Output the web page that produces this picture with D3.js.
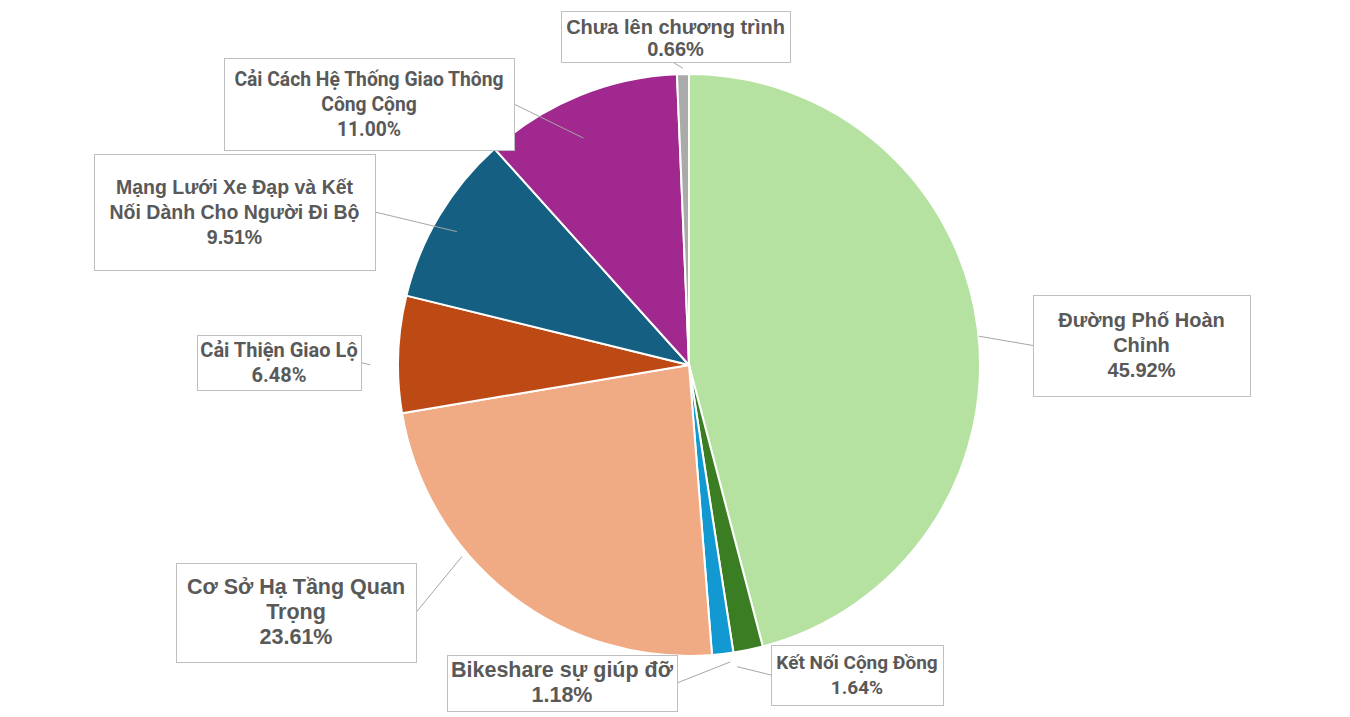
<!DOCTYPE html>
<html>
<head>
<meta charset="utf-8">
<script src="https://cdn.jsdelivr.net/npm/d3@7"></script>
<style>
  body { margin: 0; background: #fff; }
  svg { display: block; }
</style>
</head>
<body>
<div id="chart"></div>
<script>
const categories = [
  'Đường Phố Hoàn Chỉnh',
  'Kết Nối Cộng Đồng',
  'Bikeshare sự giúp đỡ',
  'Cơ Sở Hạ Tầng Quan Trọng',
  'Cải Thiện Giao Lộ',
  'Mạng Lưới Xe Đạp và Kết Nối Dành Cho Người Đi Bộ',
  'Cải Cách Hệ Thống Giao Thông Công Cộng',
  'Chưa lên chương trình'
]
const values = [45.92, 1.64, 1.18, 23.61, 6.48, 9.51, 11.0, 0.66]
const colors = ['#b5e2a1', '#3b7d23', '#1299d2', '#f0aa84', '#bd4a14', '#156082', '#a0288f', '#aaaaaa']

const ARIAL = '"Liberation Sans", Arial, sans-serif'
const NARROW = 'Roboto, sans-serif'

// label boxes (x, y, w, h), wrapped lines, leader end: [position within slice, fraction of radius]
const labelLayout = [
  { box: [1033, 295, 217, 101], lines: ['Đường Phố Hoàn', 'Chỉnh'], lead: [0.51, 1.0], side: 'left', font: ARIAL, size: 20 },
  { box: [771, 645, 172, 60], lines: ['Kết Nối Cộng Đồng'], lead: [0.95, 1.05], side: 'left', font: NARROW, size: 19 },
  { box: [447, 655, 230, 56], lines: ['Bikeshare sự giúp đỡ'], lead: [0.2, 1.03], side: 'right', font: ARIAL, size: 21.5 },
  { box: [176, 563, 240, 99], lines: ['Cơ Sở Hạ Tầng Quan', 'Trọng'], lead: [0.64, 1.02], side: 'right', font: ARIAL, size: 21.5 },
  { box: [197, 335, 164, 55], lines: ['Cải Thiện Giao Lộ'], lead: [0.41, 1.095], side: 'right', font: NARROW, size: 20 },
  { box: [94, 154, 281, 116], lines: ['Mạng Lưới Xe Đạp và Kết', 'Nối Dành Cho Người Đi Bộ'], lead: [0.47, 0.92], side: 'right', font: ARIAL, size: 19.5 },
  { box: [224, 58, 290, 92], lines: ['Cải Cách Hệ Thống Giao Thông', 'Công Cộng'], lead: [0.43, 0.86], side: 'right', font: NARROW, size: 19.3 },
  { box: [561, 11, 229, 51], lines: ['Chưa lên chương trình'], lead: [0.5, 1.02], side: 'bottom', font: ARIAL, size: 20 }
]

const width = 1350
const height = 717
const cx = 689
const cy = 365
const radius = 291

const data = categories.map((c, i) => ({ name: c, value: values[i], color: colors[i], layout: labelLayout[i] }))

const svg = d3
  .select('#chart')
  .append('svg')
  .attr('width', width)
  .attr('height', height)

const g = svg.append('g').attr('transform', 'translate(' + cx + ',' + cy + ')')

const pie = d3
  .pie()
  .sort(null)
  .value(d => d.value)

const arc = d3
  .arc()
  .innerRadius(0)
  .outerRadius(radius)

const arcs = pie(data)

g.selectAll('.slice')
  .data(arcs)
  .enter()
  .append('path')
  .attr('class', 'slice')
  .attr('d', arc)
  .attr('fill', d => d.data.color)
  .attr('stroke', '#fff')
  .attr('stroke-width', 2)
  .attr('stroke-linejoin', 'round')

// leader lines
arcs.forEach(d => {
  const L = d.data.layout
  const a = d.startAngle + (d.endAngle - d.startAngle) * L.lead[0]
  const r = radius * L.lead[1]
  const ex = cx + r * Math.sin(a)
  const ey = cy - r * Math.cos(a)
  const [bx, by, bw, bh] = L.box
  let sx, sy
  if (L.side === 'left') { sx = bx; sy = by + bh / 2 }
  else if (L.side === 'right') { sx = bx + bw; sy = by + bh / 2 }
  else { sx = bx + bw / 2 - 3; sy = by + bh }
  svg.append('line')
    .attr('x1', sx).attr('y1', sy)
    .attr('x2', ex).attr('y2', ey)
    .attr('stroke', '#a6a6a6')
    .attr('stroke-width', 1)
})

// label boxes
const labels = svg.selectAll('.label')
  .data(arcs)
  .enter()
  .append('g')
  .attr('class', 'label')

labels.append('rect')
  .attr('x', d => d.data.layout.box[0] + 0.5)
  .attr('y', d => d.data.layout.box[1] + 0.5)
  .attr('width', d => d.data.layout.box[2])
  .attr('height', d => d.data.layout.box[3])
  .attr('fill', '#fff')
  .attr('stroke', '#bfbfbf')
  .attr('stroke-width', 1)

labels.each(function(d) {
  const L = d.data.layout
  const [bx, by, bw, bh] = L.box
  const lines = L.lines.concat([d.data.value.toFixed(2) + '%'])
  const lh = bh < 55 ? 22 : 25
  const top = by + bh / 2 - (lines.length * lh) / 2
  const t = d3.select(this).append('text')
    .attr('text-anchor', 'middle')
    .attr('font-family', L.font)
    .attr('font-weight', 'bold')
    .attr('font-size', L.size)
    .attr('fill', '#595959')
  lines.forEach((ln, i) => {
    t.append('tspan')
      .attr('x', bx + bw / 2)
      .attr('y', top + i * lh + 19)
      .text(ln)
  })
})
</script>
</body>
</html>
